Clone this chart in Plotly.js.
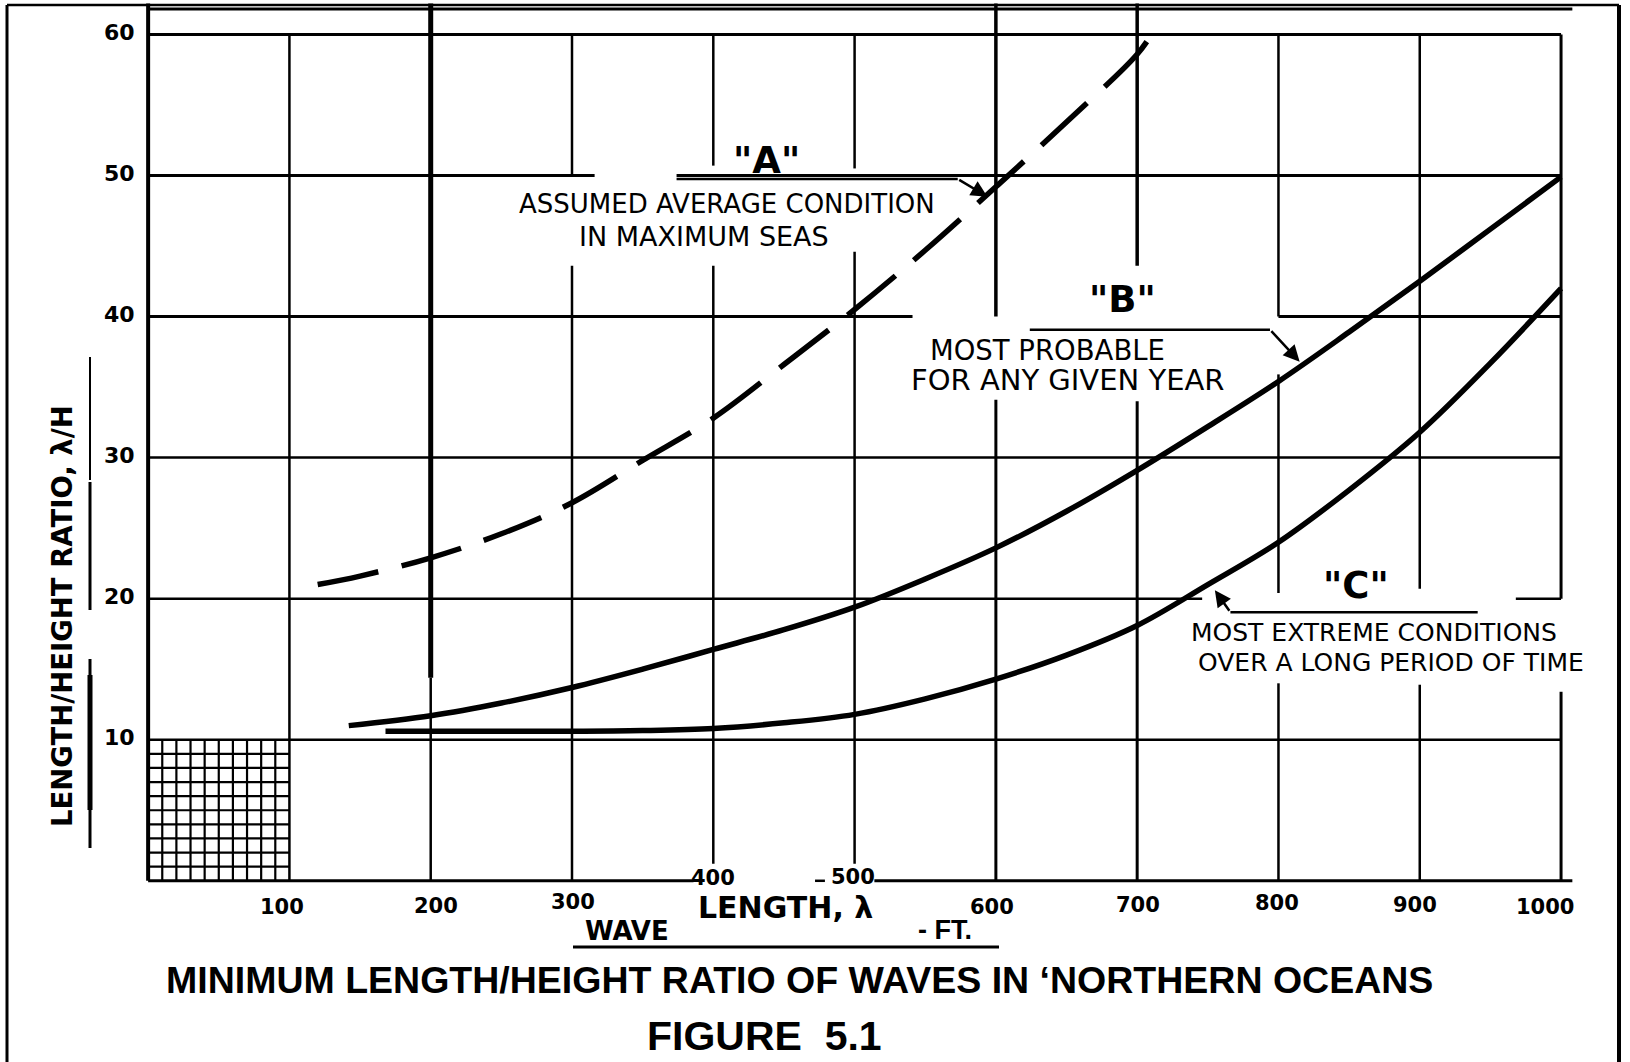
<!DOCTYPE html>
<html><head><meta charset="utf-8">
<script src="https://cdn.plot.ly/plotly-3.0.1.min.js"></script>
<style>html,body{margin:0;padding:0;background:#fff;}#chart{width:1630px;height:1062px;}</style>
</head><body><div id="chart"></div>
<script>
// ---------------- DATA ----------------
const waveLengthA = [120, 150, 200, 250, 300, 350, 400, 450, 500, 550, 600, 650, 700, 712];
const ratioA      = [21.0, 21.6, 22.9, 24.6, 26.8, 29.8, 32.8, 36.6, 40.5, 44.7, 49.2, 53.8, 58.6, 60.3];

const waveLengthB = [142, 200, 250, 300, 350, 400, 450, 500, 550, 600, 650, 700, 750, 800, 850, 900, 950, 1000];
const ratioB      = [11.0, 11.7, 12.6, 13.7, 15.0, 16.4, 17.8, 19.4, 21.4, 23.6, 26.2, 29.1, 32.2, 35.4, 38.9, 42.5, 46.2, 49.9];

const waveLengthC = [168, 200, 250, 300, 350, 400, 450, 500, 550, 600, 650, 700, 750, 800, 850, 900, 950, 1000];
const ratioC      = [10.6, 10.6, 10.6, 10.6, 10.65, 10.8, 11.2, 11.8, 12.9, 14.3, 16.0, 18.1, 21.0, 24.0, 27.7, 31.8, 36.7, 42.0];

const xTickVals = [100, 200, 300, 400, 500, 600, 700, 800, 900, 1000];
const xTickText = ['100', '200', '300', '400', '500', '600', '700', '800', '900', '1000'];
const yTickVals = [10, 20, 30, 40, 50, 60];
const yTickText = ['10', '20', '30', '40', '50', '60'];

// ---------------- LAYOUT GEOMETRY ----------------
const L = 134, T = 2, W = 1444, H = 907;
const XR = [-10, 1012], YR = [-2, 62.3];
function px(x) { return (x - L) / W; }
function py(y) { return (T + H - y) / H; }

const shapes = [];
function vseg(x, y0, y1, w) { shapes.push({type:'line', xref:'x', yref:'y', x0:x, x1:x, y0:y0, y1:y1, layer:'below', line:{color:'#000', width:w}}); }
function hseg(y, x0, x1, w) { shapes.push({type:'line', xref:'x', yref:'y', x0:x0, x1:x1, y0:y, y1:y, layer:'below', line:{color:'#000', width:w}}); }
function pline(x0, y0, x1, y1, w) { shapes.push({type:'line', xref:'paper', yref:'paper', x0:px(x0), y0:py(y0), x1:px(x1), y1:py(y1), line:{color:'#000', width:w}}); }

// fine grid in the corner
for (let i = 10; i < 100; i += 10) vseg(i, 0, 10, 2.2);
for (let j = 1; j < 10; j += 1) hseg(j, 0, 100, 2.2);

// main hand-drawn grid (with gaps around the lettering)
vseg(0, 0, 62.2, 4);
vseg(100, 0, 60, 2.5);
vseg(200, 14.4, 62.2, 5); vseg(200, 0, 14.4, 2.5);
vseg(300, 50, 60, 2.5); vseg(300, 0, 43.6, 2.5);
vseg(400, 50.7, 60, 2.5); vseg(400, 1.2, 43.6, 2.5);
vseg(500, 50.5, 60, 2.5); vseg(500, 1.2, 44.6, 2.5);
vseg(600, 40, 62.2, 3.5); vseg(600, 0, 34.1, 3);
vseg(700, 43.6, 62.2, 3.5); vseg(700, 0, 34.0, 3);
vseg(800, 40, 60, 2.5); vseg(800, 20.4, 35.9, 2.5); vseg(800, 0, 14, 2.5);
vseg(900, 20.7, 60, 2.5); vseg(900, 0, 13.9, 2.5);
vseg(1000, 20, 60, 3); vseg(1000, 0, 13.4, 3);

hseg(61.8, 0, 1008, 3);
hseg(60, 0, 1000, 3);
hseg(50, 0, 316, 3); hseg(50, 374, 1000, 3);
hseg(40, 0, 541, 3); hseg(40, 800, 1000, 3);
hseg(30, 0, 1000, 2.5);
hseg(20, 0, 746, 2.5); hseg(20, 968, 1000, 2.5);
hseg(10, 0, 1000, 2.5);
hseg(0, 0, 386, 3); hseg(0, 472, 479, 2.5); hseg(0, 514, 1008, 3);

// leader lines for the curve labels
hseg(49.75, 374, 573, 2.5);
hseg(39.07, 624, 794, 2.5);
hseg(19.04, 766, 941, 2.5);

// outer frame
pline(7, 5, 7, 1062, 3);
pline(7, 5, 1619, 5, 2.5);
pline(1619, 5, 1619, 1062, 4);

// y-title underline strokes
pline(90, 357, 90, 480, 2);
pline(90, 482, 90, 610, 3);
pline(90, 659, 90, 848, 3);
pline(90, 675, 90, 810, 5);
// x-title underline
pline(573, 947, 999, 947, 3);

// ---------------- TRACES ----------------
const traces = [
  {x: waveLengthA, y: ratioA, type:'scatter', mode:'lines', name:'"A"',
   line:{color:'#000', width:5.5, dash:'62px,24px', shape:'spline', smoothing:1}},
  {x: waveLengthB, y: ratioB, type:'scatter', mode:'lines', name:'"B"',
   line:{color:'#000', width:5.5, shape:'spline', smoothing:1}},
  {x: waveLengthC, y: ratioC, type:'scatter', mode:'lines', name:'"C"',
   line:{color:'#000', width:5.5, shape:'spline', smoothing:1}}
];

// ---------------- ANNOTATIONS ----------------
const SANS = 'DejaVu Sans, sans-serif';
const HELV = 'Liberation Sans, Arial, sans-serif';
const ann = [];
function ptext(text, x, y, size, family, extra) {
  ann.push(Object.assign({xref:'paper', yref:'paper', x:px(x), y:py(y), text:text, showarrow:false,
    xanchor:'center', yanchor:'middle', font:{family:family, size:size, color:'#000'}}, extra || {}));
}
function arrow(hx, hy, tx, ty) {
  ann.push({xref:'x', yref:'y', axref:'x', ayref:'y', x:hx, y:hy, ax:tx, ay:ty, text:'',
    showarrow:true, arrowhead:2, arrowsize:1.3, arrowwidth:2.5, arrowcolor:'#000'});
}

// tick labels (hand-lettered positions)
const xTickPix = [[282, 907], [436, 906], [573, 902], [713, 878], [853, 877], [992, 907], [1138, 905], [1277, 903], [1415, 905], [1545, 907]];
xTickVals.forEach((v, i) => {
  ptext(xTickText[i], xTickPix[i][0], xTickPix[i][1], 21, SANS, {font:{family:SANS, size:21, color:'#000', weight:'bold'}});
});
yTickVals.forEach((v, i) => {
  ann.push({xref:'paper', yref:'y', x:px(137), y:v, yshift:2, text:yTickText[i], showarrow:false,
    xanchor:'right', yanchor:'middle', font:{family:SANS, size:22, color:'#000', weight:'bold'}});
});

// curve labels
ptext('<b>"A"</b>', 766, 160, 37, SANS);
ptext('ASSUMED AVERAGE CONDITION', 727, 204, 26, SANS);
ptext('IN MAXIMUM SEAS', 704, 237, 27, SANS);
ptext('<b>"B"</b>', 1122, 299, 37, SANS);
ptext('MOST PROBABLE', 1047, 350, 27.5, SANS);
ptext('FOR ANY GIVEN YEAR', 1067, 380, 29, SANS);
ptext('<b>"C"</b>', 1356, 585, 37, SANS);
ptext('MOST EXTREME CONDITIONS', 1374, 632, 25, SANS);
ptext('OVER A LONG PERIOD OF TIME', 1391, 662, 25, SANS);

arrow(594, 48.5, 573, 49.75);
arrow(815, 36.8, 794, 39.07);
arrow(755, 20.6, 766, 19.04);

// axis titles
ptext('<b>LENGTH/HEIGHT RATIO, λ/H</b>', 62, 616, 27.5, SANS, {textangle:-90});
ptext('<b>LENGTH, λ</b>', 785, 907, 30, SANS);
ptext('WAVE', 627, 931, 26, SANS, {font:{family:SANS, size:26, color:'#000', weight:'bold'}});
ptext('- FT.', 945, 930, 27, HELV, {font:{family:HELV, size:27, color:'#000', weight:'bold'}});

// figure titles
ptext('<b>MINIMUM LENGTH/HEIGHT RATIO OF WAVES IN ‘NORTHERN OCEANS</b>', 799, 980, 37.5, HELV);
ptext('<b>FIGURE  5.1</b>', 764, 1061, 41, HELV, {yanchor:'bottom'});

const layout = {
  width: 1630, height: 1062,
  margin: {l: L, r: 1630 - L - W, t: T, b: 1062 - T - H},
  paper_bgcolor: '#fff', plot_bgcolor: 'rgba(0,0,0,0)',
  showlegend: false,
  xaxis: {range: XR, showgrid:false, zeroline:false, showline:false, showticklabels:false, ticks:''},
  yaxis: {range: YR, showgrid:false, zeroline:false, showline:false, showticklabels:false, ticks:''},
  shapes: shapes,
  annotations: ann
};

Plotly.newPlot('chart', traces, layout, {staticPlot: true, displayModeBar: false});
</script>
</body></html>
